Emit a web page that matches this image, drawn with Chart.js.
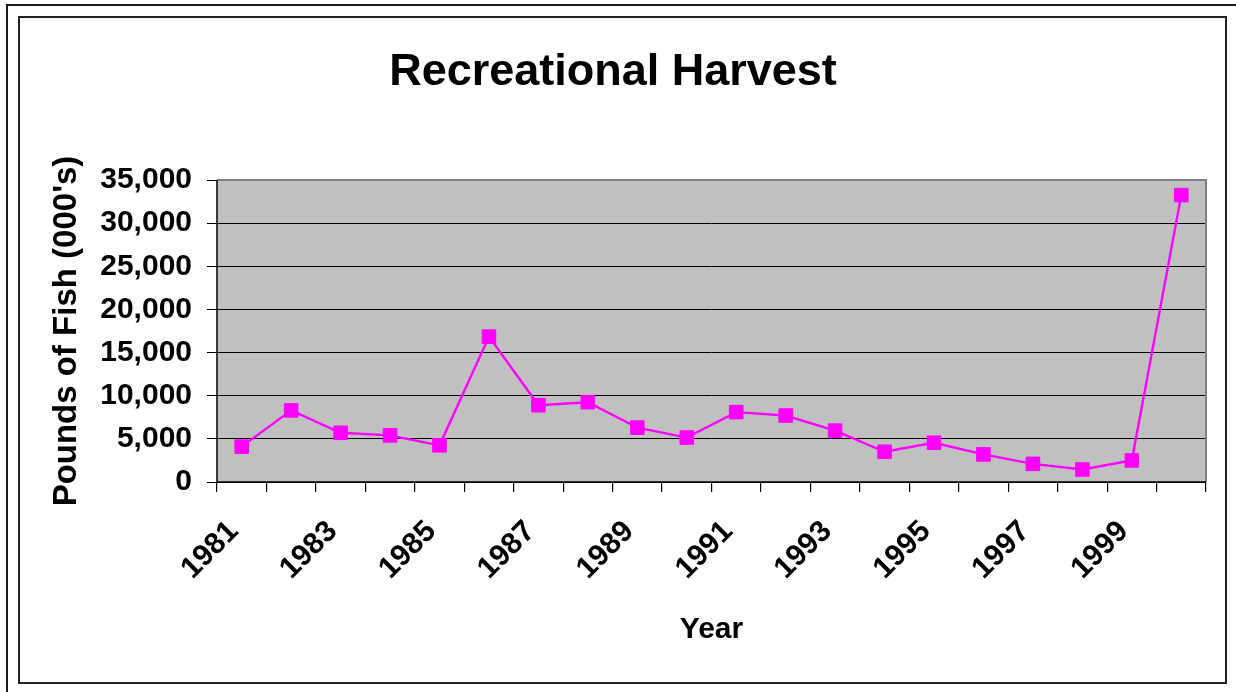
<!DOCTYPE html>
<html>
<head>
<meta charset="utf-8">
<script src="https://cdn.jsdelivr.net/npm/chart.js@4.4.1/dist/chart.umd.min.js"></script>
<style>
  html, body { margin: 0; padding: 0; background: #ffffff; }
  #wrap { position: relative; width: 1236px; height: 692px; }
</style>
</head>
<body>
<div id="wrap"><canvas id="c" width="1236" height="692"></canvas></div>
<script>
const years = ['1981','1982','1983','1984','1985','1986','1987','1988','1989','1990',
               '1991','1992','1993','1994','1995','1996','1997','1998','1999','2000'];
const harvest = [4100, 8300, 5700, 5400, 4250, 16850, 8900, 9250, 6300, 5150,
                 8100, 7700, 5950, 3500, 4550, 3200, 2100, 1450, 2500, 33250];
const yTicks = [0, 5000, 10000, 15000, 20000, 25000, 30000, 35000];
const chartTitle = 'Recreational Harvest';
const yTitle = "Pounds of Fish (000's)";
const xTitle = 'Year';

const FONT = "'Liberation Sans', Arial, sans-serif";

const framePlugin = {
  id: 'framePlugin',
  beforeDraw(chart) {
    const ctx = chart.ctx;
    const a = chart.chartArea;
    ctx.save();
    ctx.fillStyle = '#ffffff';
    ctx.fillRect(0, 0, chart.width, chart.height);
    ctx.strokeStyle = '#1a1a1a';
    ctx.lineWidth = 2;
    ctx.beginPath();
    ctx.moveTo(7, 692); ctx.lineTo(7, 5); ctx.lineTo(1236, 5);
    ctx.stroke();
    ctx.lineWidth = 2;
    ctx.strokeStyle = '#222222';
    ctx.strokeRect(19, 17, 1207, 666);
    ctx.fillStyle = '#c0c0c0';
    ctx.fillRect(a.left, a.top, a.right - a.left, a.bottom - a.top);
    ctx.restore();
  },
  beforeDatasetsDraw(chart) {
    const ctx = chart.ctx;
    const a = chart.chartArea;
    ctx.save();
    ctx.strokeStyle = '#808080';
    ctx.lineWidth = 2;
    ctx.beginPath();
    ctx.moveTo(a.left, a.top); ctx.lineTo(a.right, a.top); ctx.lineTo(a.right, a.bottom);
    ctx.stroke();
    ctx.strokeStyle = '#000000';
    ctx.lineWidth = 1.5;
    ctx.beginPath();
    ctx.moveTo(a.left, a.top); ctx.lineTo(a.left, a.bottom); ctx.lineTo(a.right, a.bottom);
    ctx.stroke();
    ctx.restore();
  }
};

new Chart(document.getElementById('c'), {
  type: 'line',
  data: {
    labels: years,
    datasets: [{
      data: harvest,
      borderColor: '#ff00ff',
      backgroundColor: '#ff00ff',
      borderWidth: 2.4,
      pointStyle: 'rect',
      pointRadius: 9.6,
      pointBorderWidth: 1,
      pointBorderColor: '#ff00ff',
      pointBackgroundColor: '#ff00ff',
      tension: 0,
      fill: false
    }]
  },
  options: {
    responsive: false,
    animation: false,
    devicePixelRatio: 1,
    layout: { padding: { left: 20, right: 30, top: 17, bottom: 10 } },
    plugins: {
      legend: { display: false },
      tooltip: { enabled: false },
      title: {
        display: true,
        text: chartTitle,
        color: '#000000',
        font: { family: FONT, size: 45, weight: 'bold', lineHeight: 1.2 },
        padding: { top: 29, bottom: 80 }
      }
    },
    scales: {
      x: {
        type: 'category',
        offset: true,
        afterFit(scale) { scale.height = 200; },
        grid: {
          offset: true,
          drawOnChartArea: false,
          drawTicks: true,
          tickLength: 10,
          color: '#000000',
          lineWidth: 1.2
        },
        border: { display: false },
        ticks: {
          autoSkip: false,
          maxRotation: 45,
          minRotation: 45,
          padding: 22,
          labelOffset: -8,
          color: '#000000',
          font: { family: FONT, size: 30, weight: 'bold' },
          callback(value, index) { return index % 2 === 0 ? years[index] : ''; }
        },
        title: {
          display: true,
          text: xTitle,
          color: '#000000',
          font: { family: FONT, size: 30, weight: 'bold', lineHeight: 1.2 },
          padding: { top: 0, bottom: 34 }
        }
      },
      y: {
        min: 0,
        max: 35000,
        afterFit(scale) { scale.width = 197; },
        afterBuildTicks(scale) { scale.ticks = yTicks.map(v => ({ value: v })); },
        grid: {
          color: '#000000',
          lineWidth: 1,
          drawTicks: true,
          tickLength: 10
        },
        border: { display: false },
        ticks: {
          padding: 15,
          color: '#000000',
          font: { family: FONT, size: 30, weight: 'bold' },
          callback(v) { return v.toLocaleString('en-US'); }
        },
        title: {
          display: true,
          text: yTitle,
          color: '#000000',
          font: { family: FONT, size: 33, weight: 'bold', lineHeight: 1.2 },
          padding: { top: 27, bottom: 0 }
        }
      }
    }
  },
  plugins: [framePlugin]
});
</script>
</body>
</html>
